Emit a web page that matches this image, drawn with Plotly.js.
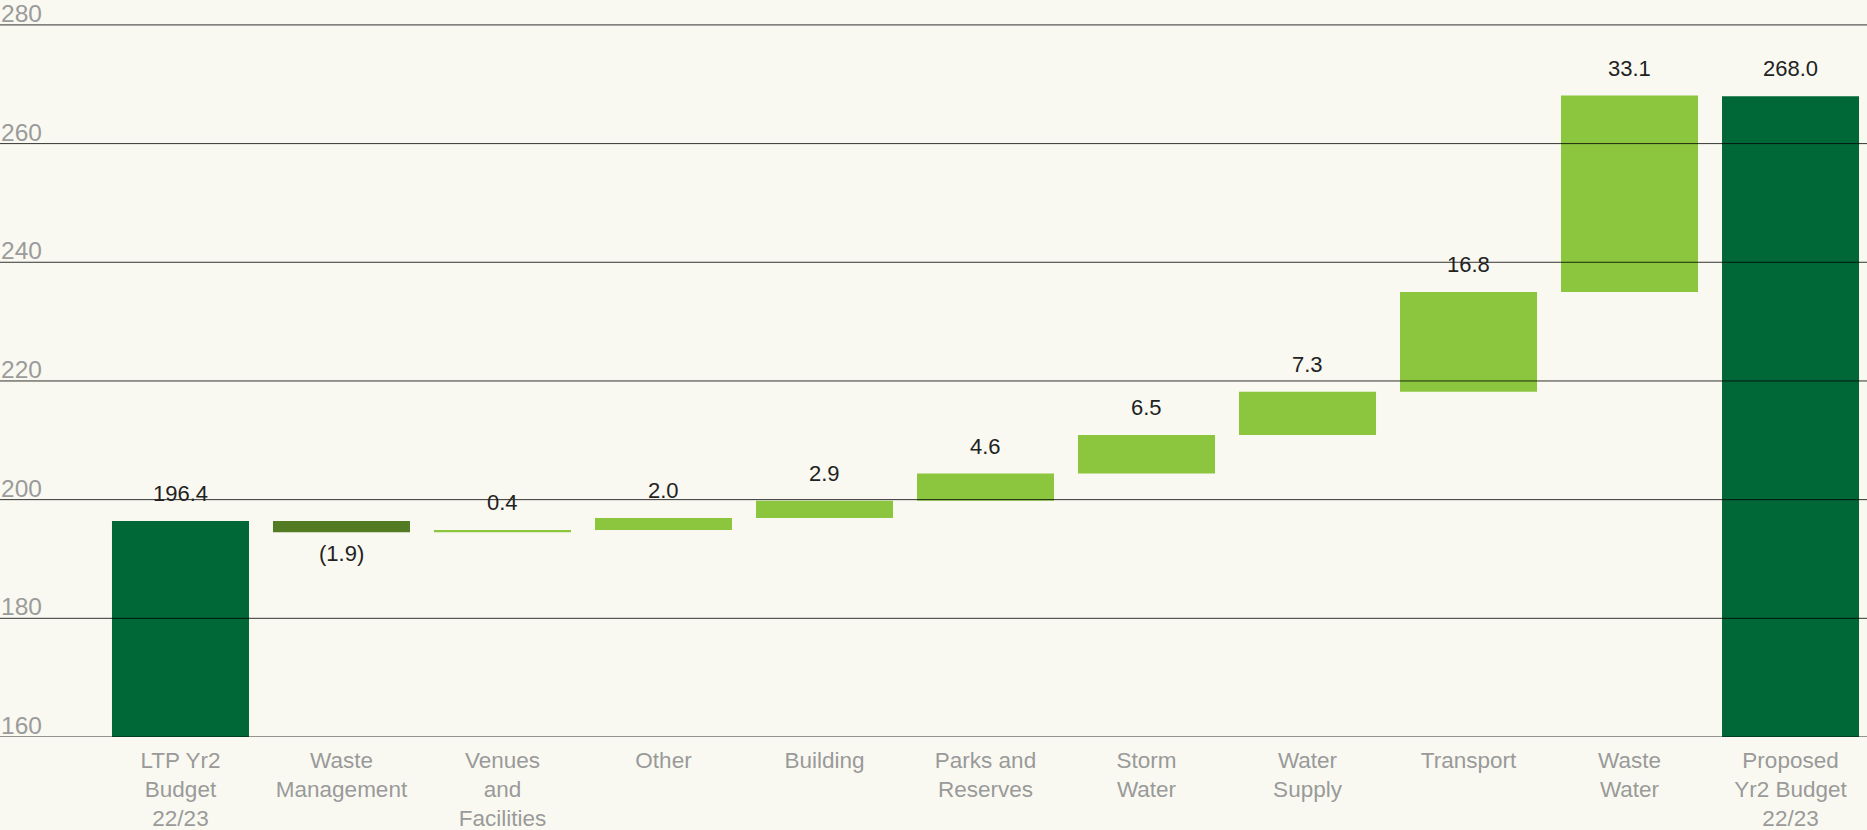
<!DOCTYPE html>
<html>
<head>
<meta charset="utf-8">
<script src="https://cdn.plot.ly/plotly-3.0.1.min.js"></script>
<style>
html,body{margin:0;padding:0;background:#f9f9f1;}
#chart{width:1867px;height:830px;}
</style>
</head>
<body>
<div id="chart"></div>
<script>
// ---- data ----
const categories = [
  "LTP Yr2<br>Budget<br>22/23",
  "Waste<br>Management",
  "Venues<br>and<br>Facilities",
  "Other",
  "Building",
  "Parks and<br>Reserves",
  "Storm<br>Water",
  "Water<br>Supply",
  "Transport",
  "Waste<br>Water",
  "Proposed<br>Yr2 Budget<br>22/23"
];
const measures = ["absolute","relative","relative","relative","relative","relative","relative","relative","relative","relative","absolute"];
const values = [196.4, -1.9, 0.4, 2.0, 2.9, 4.6, 6.5, 7.3, 16.8, 33.1, 268.0];
const yTicks = [160, 180, 200, 220, 240, 260, 280];

// ---- styles ----
const cTotal = "#006837", cUp = "#8cc63f", cDown = "#537b24";
const bg = "#f9f9f1";
const fam = "Liberation Sans, Arial, sans-serif";

// value labels, anchored from the data
let cum = 0;
const annotations = [];
values.forEach((v, i) => {
  let top, bottom;
  if (measures[i] === "absolute") { top = v; bottom = 0; cum = v; }
  else { const s = cum; cum = s + v; top = Math.max(s, cum); bottom = Math.min(s, cum); }
  const neg = v < 0;
  const txt = neg ? "(" + Math.abs(v).toFixed(1) + ")" : v.toFixed(1);
  annotations.push({
    x: i, y: neg ? bottom : top, xref: "x", yref: "y",
    text: txt, showarrow: false,
    yanchor: neg ? "top" : "bottom",
    yshift: neg ? -7 : 13,
    font: {family: fam, size: 22, color: "#222222"}
  });
});

// y tick labels sitting on the grid lines, at the left edge
yTicks.forEach(t => {
  annotations.push({
    x: 0, xref: "paper", xanchor: "left", xshift: -1,
    y: t, yref: "y", yanchor: "bottom", yshift: -4,
    text: String(t), showarrow: false,
    font: {family: fam, size: 24.5, color: "#9b9b9b"}
  });
});

const shapes = yTicks.map(t => ({
  type: "line", xref: "paper", yref: "y", x0: 0, x1: 1, y0: t, y1: t,
  layer: "above", line: {color: "rgba(0,0,0,0.8)", width: 1}
}));

const trace = {
  type: "waterfall",
  x: categories.map((c, i) => i),
  y: values,
  measure: measures,
  width: 0.851,
  increasing: {marker: {color: cUp}},
  decreasing: {marker: {color: cDown}},
  totals: {marker: {color: cTotal}},
  connector: {visible: false},
  hoverinfo: "skip",
  textinfo: "none"
};

const layout = {
  width: 1867, height: 830,
  paper_bgcolor: bg, plot_bgcolor: bg,
  margin: {l: 0, r: 0, t: 0, b: 93},
  showlegend: false,
  xaxis: {
    type: "linear",
    range: [-1.121, 10.475],
    tickmode: "array",
    tickvals: categories.map((c, i) => i),
    ticktext: categories,
    showgrid: false, zeroline: false, showline: false,
    ticks: "", ticklabelstandoff: 7,
    tickfont: {family: fam, size: 22.5, color: "#9a9a9a"},
    fixedrange: true
  },
  yaxis: {
    range: [160, 284.2],
    showticklabels: false,
    showgrid: false, zeroline: false, showline: false,
    ticks: "",
    fixedrange: true
  },
  shapes: shapes,
  annotations: annotations
};

Plotly.newPlot("chart", [trace], layout, {displayModeBar: false, staticPlot: true});
</script>
</body>
</html>
